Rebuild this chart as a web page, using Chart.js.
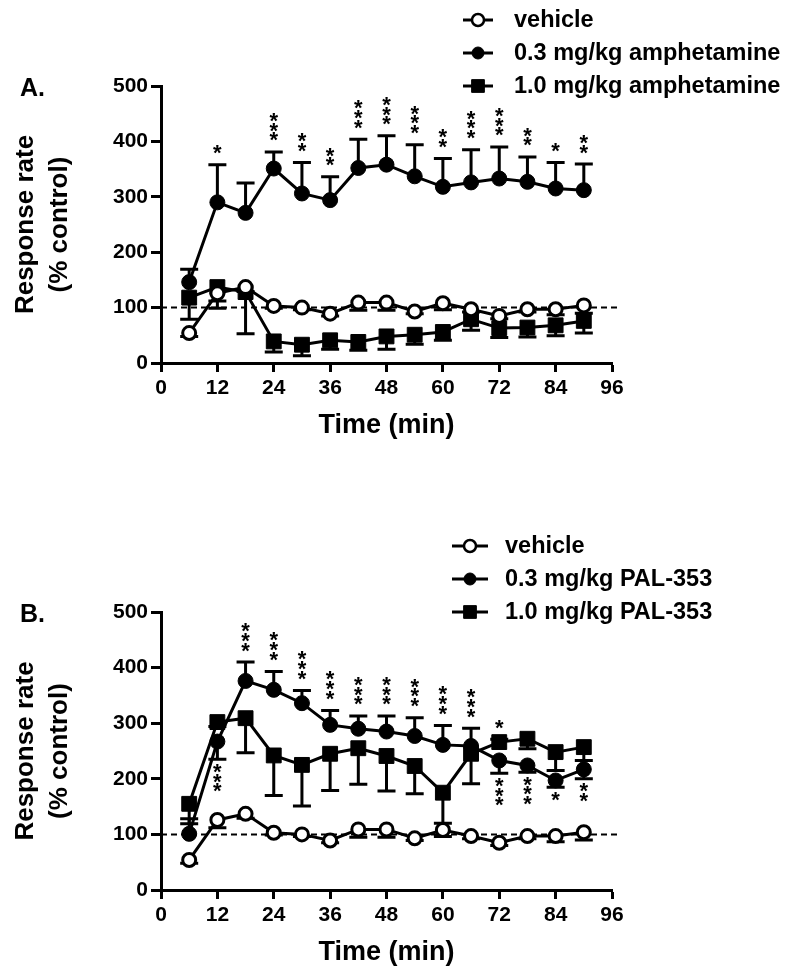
<!DOCTYPE html>
<html lang="en">
<head>
<meta charset="UTF-8"/>
<title>Response rate over time</title>
<style>
  body { margin: 0; background: #fff; }
  canvas { display: block; }
</style>
</head>
<body>
<canvas id="chartA" width="800" height="526"></canvas>
<canvas id="chartB" width="800" height="452"></canvas>

<script src="https://cdn.jsdelivr.net/npm/chart.js"></script>
<script>
// sample times (min)
const times = [6, 12, 18, 24, 30, 36, 42, 48, 54, 60, 66, 72, 78, 84, 90];
const controlLevel = 100; // dashed 100% control line

// error values are SEM; a negative value means the bar is drawn below the point
const vehicleMean = [54, 126, 137, 103, 100, 89, 109, 109, 93, 108, 97, 85, 97, 97, 104];
const vehicleErr  = [-6, -14, -8, -4, -4, -4, -14, -14, -4, -12, -5, -5, -5, -10, -14];

// panel A: amphetamine
const amph03Mean  = [146, 290, 271, 351, 306, 294, 352, 358, 337, 318, 326, 333, 327, 315, 312];
const amph03Err   = [23, 68, 54, 30, 56, 42, 52, 52, 57, 51, 59, 57, 45, 47, 47];
const amph03Stars = ['', '*', '', '***', '**', '**', '***', '***', '***', '**', '***', '***', '**', '*', '**'];
const amph10Mean  = [118, 137, 128, 39, 33, 41, 38, 48, 51, 56, 79, 63, 64, 68, 76];
const amph10Err   = [-39, -38, -75, -19, -20, -16, -15, -23, -17, -15, -20, -17, -17, -19, -22];

// panel B: PAL-353
const pal03Mean  = [101, 267, 376, 360, 336, 297, 290, 285, 277, 261, 259, 233, 224, 197, 217];
const pal03Err   = [27, -32, 34, 33, 23, 26, 23, 28, 33, 35, 32, -23, -12, -12, -17];
const pal03Stars = ['', '***', '***', '***', '***', '***', '***', '***', '***', '***', '***', '***', '***', '*', '**'];
const pal10Mean  = [155, 302, 309, 242, 225, 245, 255, 241, 223, 175, 245, 266, 272, 248, 257];
const pal10Err   = [-36, -8, -62, -72, -74, -66, -65, -63, -50, -55, -54, 5, -18, -33, -24];
const pal10Stars = ['', '', '', '', '', '', '', '', '', '', '', '*', '', '', ''];

const FONT = "'Liberation Sans', Arial, sans-serif";

function pts(arr) { return times.map((t, i) => ({x: t, y: arr[i]})); }

function series(label, mean, err, stars, style) {
  const open = style === 'open';
  return {
    label,
    data: pts(mean),
    err, stars,
    borderColor: '#000',
    borderWidth: 3,
    pointStyle: style === 'rect' ? 'rect' : 'circle',
    pointRadius: style === 'rect' ? 10.5 : (open ? 6.5 : 7.5),
    pointBorderWidth: open ? 3 : 1,
    pointBackgroundColor: open ? '#fff' : '#000',
    pointBorderColor: '#000',
    tension: 0
  };
}

// error bars, stars, dashed line, legend and panel letter
const marksPlugin = {
  id: 'marks',
  beforeDatasetsDraw(chart) {
    const {ctx, chartArea, scales: {x, y}} = chart;
    ctx.save();
    ctx.strokeStyle = '#000';
    ctx.lineWidth = 2;
    ctx.setLineDash([6, 4]);
    const yr = y.getPixelForValue(controlLevel);
    ctx.beginPath();
    ctx.moveTo(chartArea.left, yr);
    ctx.lineTo(chartArea.right + 8, yr);
    ctx.stroke();
    ctx.setLineDash([]);
    ctx.lineWidth = 3;
    chart.data.datasets.forEach(ds => {
      ds.data.forEach((p, i) => {
        const e = ds.err[i];
        if (!e) return;
        const px = x.getPixelForValue(p.x);
        const y0 = y.getPixelForValue(p.y), y1 = y.getPixelForValue(p.y + e);
        ctx.beginPath();
        ctx.moveTo(px, y0); ctx.lineTo(px, y1);
        ctx.moveTo(px - 9, y1); ctx.lineTo(px + 9, y1);
        ctx.stroke();
      });
    });
    ctx.restore();
  },
  afterDatasetsDraw(chart) {
    const {ctx, scales: {x, y}} = chart;
    ctx.save();
    ctx.fillStyle = '#000';
    ctx.font = 'bold 22px ' + FONT;
    ctx.textAlign = 'center';
    ctx.textBaseline = 'alphabetic';
    const m = ctx.measureText('*');
    const shift = (m.actualBoundingBoxAscent - m.actualBoundingBoxDescent) / 2;
    chart.data.datasets.forEach(ds => {
      if (!ds.stars) return;
      ds.data.forEach((p, i) => {
        const s = ds.stars[i];
        if (!s) return;
        const e = ds.err[i];
        const px = x.getPixelForValue(p.x);
        const cap = y.getPixelForValue(p.y + e);
        for (let k = 0; k < s.length; k++) {
          const cy = e >= 0 ? cap - 15 - k * 9.8 : cap + 9 + k * 9.8;
          ctx.fillText('*', px, cy + shift);
        }
      });
    });
    ctx.restore();
  },
  afterDraw(chart, args, opts) {
    const {ctx, chartArea} = chart;
    ctx.save();
    ctx.fillStyle = '#000';
    ctx.strokeStyle = '#000';
    ctx.textBaseline = 'middle';
    ctx.textAlign = 'left';
    ctx.font = 'bold 23.5px ' + FONT;
    chart.data.datasets.forEach((ds, i) => {
      const ry = chartArea.top - 66 + i * 33;
      ctx.lineWidth = 3;
      ctx.beginPath();
      ctx.moveTo(opts.lineX, ry);
      ctx.lineTo(opts.lineX + opts.lineW, ry);
      ctx.stroke();
      ctx.fillStyle = ds.pointBackgroundColor;
      ctx.lineWidth = ds.pointBorderWidth === 3 ? 2.5 : 1;
      Chart.helpers.drawPoint(ctx, {
        pointStyle: ds.pointStyle,
        radius: ds.pointStyle === 'rect' ? 9 : 6,
        borderWidth: ctx.lineWidth,
        rotation: 0
      }, opts.lineX + opts.lineW / 2, ry);
      ctx.fillStyle = '#000';
      ctx.fillText(ds.label, opts.textX, ry + 1);
    });
    ctx.font = 'bold 25px ' + FONT;
    ctx.fillText(opts.letter, 20, chartArea.top + 3);
    ctx.restore();
  }
};

function makeChart(id, datasets, extra) {
  return new Chart(document.getElementById(id), {
    type: 'line',
    data: {datasets},
    plugins: [marksPlugin],
    options: {
      responsive: false,
      animation: false,
      layout: {padding: {top: 86, right: 188, left: 0, bottom: extra.padBottom}},
      plugins: {
        legend: {display: false},
        tooltip: {enabled: false},
        marks: extra
      },
      scales: {
        x: {
          type: 'linear',
          min: 0, max: 96,
          afterFit: s => { s.height = 88; },
          border: {display: true, color: '#000', width: 3},
          grid: {drawOnChartArea: false, drawTicks: true, tickLength: 9, tickWidth: 3, tickColor: '#000'},
          ticks: {stepSize: 12, color: '#000', padding: 4, maxRotation: 0,
                  font: {family: FONT, size: 21, weight: 'bold'}},
          title: {display: true, text: 'Time (min)', color: '#000', padding: {top: 0, bottom: 9},
                  font: {family: FONT, size: 27, weight: 'bold', lineHeight: 1.2}}
        },
        y: {
          min: 0, max: 500,
          afterFit: s => { s.width = 161; },
          border: {display: true, color: '#000', width: 3},
          grid: {drawOnChartArea: false, drawTicks: true, tickLength: 10, tickWidth: 3, tickColor: '#000'},
          ticks: {stepSize: 100, color: '#000', padding: 3,
                  font: {family: FONT, size: 21, weight: 'bold'}},
          title: {display: true, text: ['Response rate', '(% control)'], color: '#000',
                  padding: {top: 9, bottom: 0},
                  font: {family: FONT, size: 26, weight: 'bold', lineHeight: 1.3}}
        }
      }
    }
  });
}

makeChart('chartA', [
  series('vehicle', vehicleMean, vehicleErr, null, 'open'),
  series('0.3 mg/kg amphetamine', amph03Mean, amph03Err, amph03Stars, 'circle'),
  series('1.0 mg/kg amphetamine', amph10Mean, amph10Err, null, 'rect')
], {letter: 'A.', lineX: 463, lineW: 30, textX: 514, padBottom: 75});

makeChart('chartB', [
  series('vehicle', vehicleMean, vehicleErr, null, 'open'),
  series('0.3 mg/kg PAL-353', pal03Mean, pal03Err, pal03Stars, 'circle'),
  series('1.0 mg/kg PAL-353', pal10Mean, pal10Err, pal10Stars, 'rect')
], {letter: 'B.', lineX: 452, lineW: 36, textX: 505, padBottom: 0});
</script>
</body>
</html>
